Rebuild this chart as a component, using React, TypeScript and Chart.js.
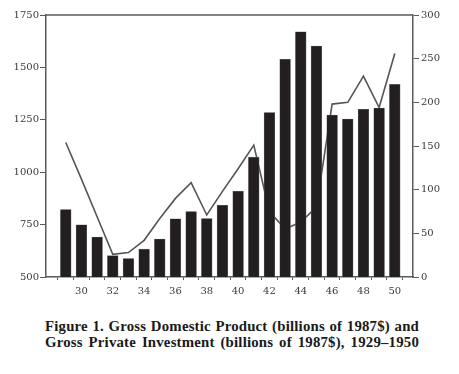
import React, { useEffect, useRef } from "react";
import { Chart, registerables } from "chart.js";

Chart.register(...registerables);

const years = [1929, 1930, 1931, 1932, 1933, 1934, 1935, 1936, 1937, 1938, 1939, 1940, 1941, 1942, 1943, 1944, 1945, 1946, 1947, 1948, 1949, 1950];
const gdp = [822, 749, 691, 602, 588, 633, 681, 778, 812, 779, 842, 909, 1072, 1285, 1539, 1670, 1602, 1273, 1254, 1300, 1306, 1419];
const investment = [154, 112, 69, 26, 28, 42, 67, 90, 108, 71, 98, 124, 151, 75, 55, 63, 80, 198, 200, 230, 194, 256];
const captionLines = [
  "Figure 1. Gross Domestic Product (billions of 1987$) and",
  "Gross Private Investment (billions of 1987$), 1929\u20131950",
];

const AXIS = "#5a5a5a";
const TEXT = "#3a3a3a";
const FONT = { family: "'DejaVu Serif', serif", size: 10 };

const frameTop = {
  id: "frameTop",
  afterDatasetsDraw(chart: any) {
    const { ctx, chartArea } = chart;
    ctx.save();
    ctx.strokeStyle = AXIS;
    ctx.lineWidth = 1.5;
    ctx.beginPath();
    ctx.moveTo(chartArea.left, chartArea.top);
    ctx.lineTo(chartArea.right, chartArea.top);
    ctx.stroke();
    ctx.restore();
  },
};

export default function App() {
  const ref = useRef<HTMLCanvasElement | null>(null);

  useEffect(() => {
    if (!ref.current) return;
    const chart = new Chart(ref.current, {
      type: "bar",
      data: {
        datasets: [
          {
            type: "bar",
            label: "GDP",
            data: years.map((y, i) => ({ x: y, y: gdp[i] })),
            backgroundColor: "#231f20",
            borderColor: "#6a6a6a",
            borderWidth: 0.6,
            barThickness: 10.7,
            yAxisID: "y",
            order: 0,
          } as any,
          {
            type: "line",
            label: "Investment",
            data: years.map((y, i) => ({ x: y, y: investment[i] })),
            borderColor: "#555555",
            borderWidth: 1.6,
            pointRadius: 0,
            tension: 0,
            fill: false,
            yAxisID: "y2",
            order: 1,
          } as any,
        ],
      },
      options: {
        responsive: false,
        animation: false,
        layout: { padding: { top: 15, left: 0, right: 0, bottom: 0 } },
        plugins: { legend: { display: false }, tooltip: { enabled: false } },
        scales: {
          x: {
            type: "linear",
            min: 1928.27,
            max: 1950.63,
            afterFit: (s: any) => { s.height = 28; },
            ticks: {
              stepSize: 1,
              includeBounds: false,
              autoSkip: false,
              maxRotation: 0,
              padding: 5,
              color: TEXT,
              font: FONT,
              callback: (v: any) => (Number(v) % 2 === 0 ? String(v).slice(2) : ""),
            },
            grid: { drawOnChartArea: false, drawTicks: true, tickLength: 3, tickColor: AXIS, tickWidth: 1 },
            border: { display: true, color: AXIS, width: 1.5 },
          },
          y: {
            type: "linear",
            position: "left",
            min: 500,
            max: 1750,
            afterFit: (s: any) => { s.width = 46; },
            ticks: { stepSize: 250, padding: 1, color: TEXT, font: FONT, callback: (v: any) => String(v) },
            grid: { drawOnChartArea: false, drawTicks: true, tickLength: 6, tickColor: AXIS, tickWidth: 1 },
            border: { display: true, color: AXIS, width: 1.5 },
          },
          y2: {
            type: "linear",
            position: "right",
            min: 0,
            max: 300,
            afterFit: (s: any) => { s.width = 46; },
            ticks: { stepSize: 50, padding: 2, color: TEXT, font: FONT, callback: (v: any) => String(v) },
            grid: { drawOnChartArea: false, drawTicks: true, tickLength: 6, tickColor: AXIS, tickWidth: 1 },
            border: { display: true, color: AXIS, width: 1.5 },
          },
        },
      },
      plugins: [frameTop],
    } as any);
    return () => chart.destroy();
  }, []);

  return (
    <div style={{ position: "absolute", left: 0, top: 0, width: 459, height: 374, background: "#fff" }}>
      <canvas ref={ref} width={459} height={305} style={{ position: "absolute", left: 0, top: 0 }} />
      <div
        style={{
          position: "absolute",
          left: 45,
          top: 318,
          width: 374,
          fontFamily: "'Liberation Serif', serif",
          fontWeight: "bold",
          fontSize: 14.8,
          letterSpacing: "0.2px",
          lineHeight: "16px",
          color: "#1a1a1a",
          whiteSpace: "nowrap",
        }}
      >
        {captionLines.map((l, i) => (
          <div key={i} style={{ textAlign: "justify", textAlignLast: "justify" as any }}>{l}</div>
        ))}
      </div>
    </div>
  );
}
